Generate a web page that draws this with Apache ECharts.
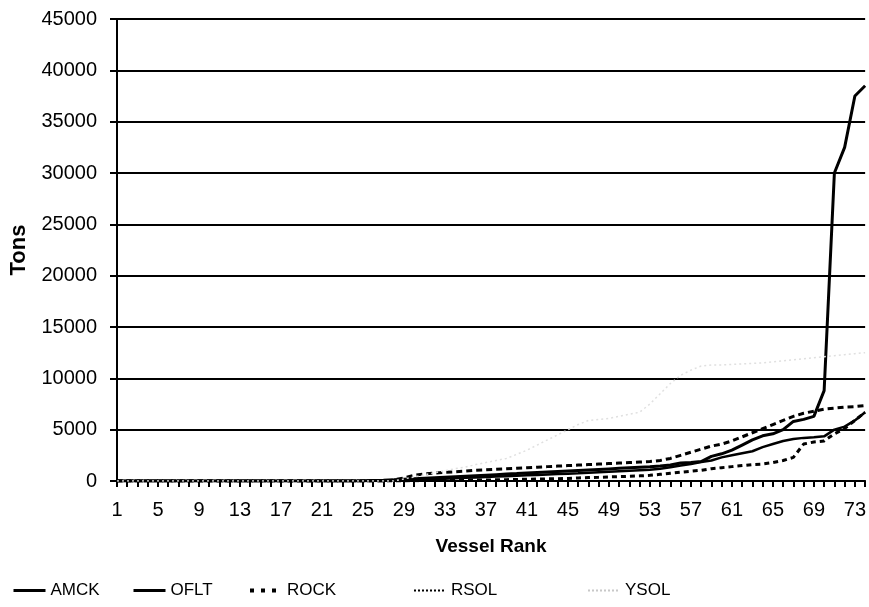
<!DOCTYPE html>
<html>
<head>
<meta charset="utf-8">
<script src="https://cdn.jsdelivr.net/npm/echarts@6/dist/echarts.min.js"></script>
<style>
  html, body { margin: 0; padding: 0; background: #fff; }
  #chart { width: 869px; height: 607px; }
</style>
</head>
<body>
<div id="chart"></div>
<script>
// Vessel rank 1..74
const categories = Array.from({ length: 74 }, (_, i) => String(i + 1));

const yTicks = [0, 5000, 10000, 15000, 20000, 25000, 30000, 35000, 40000, 45000];

// Tons per vessel, by rank
const amck = [
  0, 0, 0, 0, 0, 0, 0, 0, 0, 0,
  0, 0, 0, 0, 0, 0, 0, 0, 0, 0,
  0, 0, 0, 0, 20, 50, 80, 120, 170, 220,
  270, 320, 370, 420, 470, 520, 570, 620, 670, 720,
  780, 830, 880, 930, 980, 1030, 1080, 1130, 1180, 1230,
  1280, 1330, 1380, 1450, 1550, 1750, 1800, 1900, 2400, 2650,
  3000, 3500, 4000, 4400, 4600, 5000, 5800, 6000, 6300, 8800,
  30000, 32500, 37500, 38500
];

const oflt = [
  0, 0, 0, 0, 0, 0, 0, 0, 0, 0,
  0, 0, 0, 0, 0, 0, 0, 0, 0, 0,
  0, 0, 0, 0, 0, 0, 20, 50, 80, 110,
  150, 190, 230, 270, 310, 350, 390, 430, 470, 510,
  550, 590, 630, 670, 710, 750, 800, 850, 900, 950,
  1000, 1050, 1100, 1200, 1350, 1500, 1650, 1850, 2000, 2300,
  2500, 2700, 2900, 3300, 3600, 3900, 4100, 4200, 4250, 4350,
  5000, 5300, 5900, 6700
];

const rock = [
  0, 0, 0, 0, 0, 0, 0, 0, 0, 0,
  0, 0, 0, 0, 0, 0, 0, 0, 0, 0,
  0, 0, 0, 0, 0, 0, 0, 100, 300, 550,
  700, 780, 850, 900, 960, 1050, 1100, 1150, 1200, 1250,
  1300, 1350, 1400, 1450, 1500, 1550, 1600, 1650, 1700, 1750,
  1800, 1850, 1900, 2000, 2200, 2500, 2800, 3100, 3400, 3600,
  3900, 4300, 4700, 5100, 5500, 5900, 6300, 6600, 6800, 7000,
  7100, 7200, 7250, 7350
];

const rsol = [
  0, 0, 0, 0, 0, 0, 0, 0, 0, 0,
  0, 0, 0, 0, 0, 0, 0, 0, 0, 0,
  0, 0, 0, 0, 0, 0, 0, 0, 0, 30,
  40, 50, 60, 70, 80, 90, 100, 115, 130, 150,
  170, 190, 210, 230, 250, 300, 330, 360, 400, 430,
  460, 500, 550, 650, 750, 850, 950, 1050, 1200, 1300,
  1400, 1500, 1600, 1650, 1800, 2000, 2300, 3600, 3800, 3900,
  4600, 5100, 5900, 6700
];

const ysol = [
  0, 0, 0, 0, 0, 0, 0, 0, 0, 0,
  0, 0, 0, 0, 0, 0, 0, 0, 0, 0,
  0, 0, 0, 0, 0, 0, 0, 0, 200, 400,
  600, 800, 1000, 1200, 1350, 1600, 1800, 2000, 2200, 2600,
  3000, 3500, 4000, 4500, 5000, 5500, 5900, 6000, 6100, 6300,
  6500, 6700, 7500, 8500, 9500, 10300, 10800, 11200, 11300, 11300,
  11350, 11400, 11450, 11500, 11600, 11700, 11800, 11900, 12000, 12100,
  12200, 12300, 12400, 12500
];

const FONT = '"Liberation Sans", Arial, sans-serif';

function lineSeries(name, data, style) {
  return {
    name: name,
    type: 'line',
    data: data,
    showSymbol: false,
    symbol: 'none',
    animation: false,
    itemStyle: { color: style.color },
    lineStyle: style
  };
}

// one legend box per entry so each can sit at its own spot
function legendAt(name, left, itemLine) {
  return {
    data: [{ name: name, lineStyle: itemLine, itemStyle: { opacity: 0 } }],
    left: left,
    top: 582,
    padding: 0,
    itemWidth: 32,
    itemHeight: 14,
    textStyle: { fontFamily: FONT, fontSize: 17, color: '#000' }
  };
}

const chart = echarts.init(document.getElementById('chart'), null, { renderer: 'canvas' });

chart.setOption({
  animation: false,
  backgroundColor: '#fff',
  grid: { left: 117, right: 1, top: 19, bottom: 126, containLabel: false },
  xAxis: {
    type: 'category',
    data: categories,
    boundaryGap: false,
    name: 'Vessel Rank',
    nameLocation: 'middle',
    nameGap: 56,
    nameTextStyle: { fontFamily: FONT, fontSize: 19, fontWeight: 'bold', color: '#000' },
    axisLine: { lineStyle: { color: '#000', width: 2 } },
    axisTick: { show: true, interval: 0, length: 6, lineStyle: { color: '#000', width: 2 } },
    axisLabel: { interval: 3, margin: 19, fontFamily: FONT, fontSize: 20, color: '#000' },
    splitLine: { show: false }
  },
  yAxis: {
    type: 'value',
    min: yTicks[0],
    max: yTicks[yTicks.length - 1],
    interval: 5000,
    name: 'Tons',
    nameLocation: 'middle',
    nameGap: 87,
    nameRotate: 90,
    nameTextStyle: { fontFamily: FONT, fontSize: 22, fontWeight: 'bold', color: '#000' },
    axisLine: { show: true, lineStyle: { color: '#000', width: 2 } },
    axisTick: { show: true, length: 7, lineStyle: { color: '#000', width: 2 } },
    axisLabel: {
      margin: 20, fontFamily: FONT, fontSize: 20, color: '#000',
      formatter: (v) => String(v)
    },
    splitLine: { show: true, lineStyle: { color: '#000', width: 2 } }
  },
  legend: [
    legendAt('AMCK', 12, { color: '#000', width: 3, type: 'solid' }),
    legendAt('OFLT', 132, { color: '#000', width: 3, type: 'solid' }),
    legendAt('ROCK', 248, { color: '#000', width: 4, type: [4, 7] }),
    legendAt('RSOL', 413, { color: '#000', width: 2, type: [2, 2] }),
    legendAt('YSOL', 587, { color: '#c8c8c8', width: 2, type: [2, 2] })
  ],
  series: [
    lineSeries('AMCK', amck, { color: '#000', width: 3, type: 'solid' }),
    lineSeries('OFLT', oflt, { color: '#000', width: 2.5, type: 'solid' }),
    lineSeries('ROCK', rock, { color: '#000', width: 3, type: [6, 4] }),
    lineSeries('RSOL', rsol, { color: '#000', width: 3, type: [5, 4] }),
    lineSeries('YSOL', ysol, { color: '#e0e0e0', width: 1.5, type: [2, 3] })
  ]
});
</script>
</body>
</html>
